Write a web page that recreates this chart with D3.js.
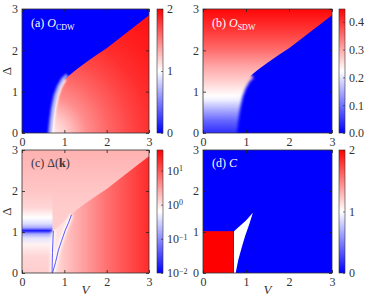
<!DOCTYPE html>
<html>
<head>
<meta charset="utf-8">
<script src="https://cdn.jsdelivr.net/npm/d3@7"></script>
<style>
  body { margin: 0; background: #fff; }
</style>
</head>
<body>
<script>
// axes of the four maps
const vTicks = [0, 1, 2, 3]
const deltaTicks = [0, 1, 2, 3]

// phase boundaries, [V, Δ]
const cdwEdge = [[0.71, 0], [0.74, 0.3], [0.78, 0.6], [0.84, 0.9], [0.92, 1.12], [1.02, 1.3], [1.12, 1.4]]
const upperEdge = [[1.12, 1.4], [1.3, 1.55], [1.5, 1.7], [1.75, 1.88], [2, 2.05], [2.25, 2.25], [2.5, 2.45], [2.75, 2.65], [3, 2.85]]

// (a) CDW order, grows with distance from (0.55, -0.1)
const cdwDist = [0, 0.5, 1, 1.5, 2, 2.5, 3, 3.8]
const cdwValue = [1.0, 1.2, 1.45, 1.6, 1.72, 1.82, 1.88, 1.94]
const cdwTicks = [0, 1, 2]

// (b) SDW order against Δ
const sdwDelta = [0, 0.3, 0.6, 0.8, 0.9, 1.0, 1.3, 1.6, 2, 2.5, 3]
const sdwValue = [0.04, 0.09, 0.16, 0.21, 0.225, 0.235, 0.27, 0.3, 0.35, 0.4, 0.44]
const sdwTicks = [0, 0.1, 0.2, 0.3, 0.4]

// (c) gap, log10 values
const gapDelta = [0, 0.4, 0.7, 0.85, 0.95, 1.0, 1.03, 1.06, 1.11, 1.2, 1.35, 1.6, 2.0, 2.5, 3.0]
const gapLeft = [0.15, 0.1, -0.1, -0.4, -0.8, -1.4, -1.9, -1.4, -0.8, -0.45, -0.2, 0.1, 0.2, 0.28, 0.35]
const gapUpper = [0.15, 0.15, 0.15, 0.15, 0.15, 0.15, 0.15, 0.15, 0.15, 0.15, 0.15, 0.17, 0.2, 0.28, 0.35]
const gapV = [0.72, 1, 1.5, 2, 2.5, 3]
const gapRight = [0.0, 0.2, 0.5, 0.8, 1.05, 1.3]
const gapWedge = 0.02
const gapNodeA = [[0.71, 0], [0.72, 0.5], [0.74, 1.03]]
const gapNodeB = [[0.72, 0], [0.79, 0.25], [0.86, 0.56], [0.94, 0.8], [1.02, 1.04], [1.1, 1.23], [1.17, 1.42]]
const gapTicks = [-2, -1, 0, 1]

// (d) Chern number
const chernTwo = {v: [0, 0.71], delta: [0, 1.02]}
const chernOne = [[0.72, 0], [0.72, 1.02], [0.85, 1.14], [1.0, 1.28], [1.16, 1.47], [1.08, 1.2], [0.98, 0.9], [0.9, 0.62], [0.82, 0.32], [0.76, 0]]
const chernTicks = [0, 1, 2]

const W = 374, H = 304
const FONT = '"Liberation Serif", "DejaVu Serif", serif'
const bwr = ["#0000ff", "#ffffff", "#ff0000"]
const cdwColor = d3.scaleLinear().domain([0, 1, 2]).range(bwr)
const sdwColor = d3.scaleLinear().domain([0, 0.223, 0.446]).range(bwr)
const gapColor = d3.scaleLinear().domain([-2, -0.2, 1.6]).range(bwr)
const chernColor = d3.scaleLinear().domain([0, 1, 2]).range(bwr)

const panels = {
    a: {x: 22, y: 9, w: 127, h: 124, cb: 157},
    b: {x: 203, y: 9, w: 129, h: 124, cb: 339},
    c: {x: 22, y: 150, w: 127, h: 123, cb: 157},
    d: {x: 203, y: 150, w: 129, h: 123, cb: 339}
}

const svg = d3.select("body").append("svg").attr("width", W).attr("height", H)
const defs = svg.append("defs")
let addBlur = (id, sd) => defs.append("filter").attr("id", id)
    .attr("filterUnits", "userSpaceOnUse")
    .attr("x", 0).attr("y", 0).attr("width", W).attr("height", H)
    .append("feGaussianBlur").attr("stdDeviation", sd)
addBlur("soft", 1.6)
addBlur("thin", 0.9)

let addGrad = (id, type, attrs, offsets, colors) => {
    const gr = defs.append(type).attr("id", id).attr("gradientUnits", "userSpaceOnUse")
    Object.entries(attrs).forEach(([k, v]) => gr.attr(k, v))
    offsets.forEach((o, i) => gr.append("stop").attr("offset", o).attr("stop-color", colors[i]))
}

let makePanel = (key) => {
    const p = panels[key]
    const x = d3.scaleLinear().domain([0, 3]).range([p.x, p.x + p.w])
    const y = d3.scaleLinear().domain([0, 3]).range([p.y + p.h, p.y])
    defs.append("clipPath").attr("id", "clip-" + key)
        .append("rect").attr("x", p.x).attr("y", p.y).attr("width", p.w).attr("height", p.h)
    const g = svg.append("g").attr("clip-path", "url(#clip-" + key + ")")
    const line = d3.line().x(d => x(d[0])).y(d => y(d[1]))
    return {p, x, y, g, line}
}

let styleText = sel => sel.attr("font-family", FONT).attr("font-size", 12).attr("fill", "#333")

let drawAxes = ({p, x, y}) => {
    const style = sel => {
        sel.attr("font-family", FONT)
        sel.select(".domain").remove()
        sel.selectAll("line").attr("stroke", "#222").attr("stroke-width", 0.8)
        sel.selectAll("text").call(styleText)
    }
    svg.append("rect").attr("x", p.x).attr("y", p.y).attr("width", p.w).attr("height", p.h)
        .attr("fill", "none").attr("stroke", "#333").attr("stroke-width", 0.8)
    svg.append("g").attr("transform", `translate(0,${y(0)})`)
        .call(d3.axisBottom(x).tickValues(vTicks).tickSize(-3).tickPadding(4).tickFormat(d3.format("d"))).call(style)
    svg.append("g").attr("transform", `translate(0,${y(3)})`)
        .call(d3.axisTop(x).tickValues(vTicks).tickSize(-3).tickFormat("")).call(style)
    svg.append("g").attr("transform", `translate(${x(0)},0)`)
        .call(d3.axisLeft(y).tickValues(deltaTicks).tickSize(-3).tickPadding(4).tickFormat(d3.format("d"))).call(style)
    svg.append("g").attr("transform", `translate(${x(3)},0)`)
        .call(d3.axisRight(y).tickValues(deltaTicks).tickSize(-3).tickFormat("")).call(style)
}

let drawColorbar = (key, color, ticks, fmt) => {
    const p = panels[key]
    const dom = color.domain()
    const cy = d3.scaleLinear().domain([dom[0], dom[2]]).range([p.y + p.h, p.y])
    const samples = d3.range(0, 11).map(i => dom[0] + (dom[2] - dom[0]) * i / 10)
    addGrad("cb-" + key, "linearGradient", {x1: 0, y1: p.y + p.h, x2: 0, y2: p.y},
        samples.map((s, i) => i / 10), samples.map(color))
    svg.append("rect").attr("x", p.cb).attr("y", p.y).attr("width", 6).attr("height", p.h)
        .attr("fill", "url(#cb-" + key + ")").attr("stroke", "#333").attr("stroke-width", 0.6)
    const ax = svg.append("g").attr("transform", `translate(${p.cb + 6},0)`)
        .call(d3.axisRight(cy).tickValues(ticks).tickSize(-2).tickPadding(4).tickFormat(fmt))
    ax.attr("font-family", FONT)
    ax.select(".domain").remove()
    ax.selectAll("line").attr("stroke", "#222").attr("stroke-width", 0.6)
    ax.selectAll("text").call(styleText)
    return ax
}

// ---- (a) CDW
{
    const pa = makePanel("a")
    const {x, y, g, line} = pa
    g.append("rect").attr("x", pa.p.x).attr("y", pa.p.y).attr("width", pa.p.w).attr("height", pa.p.h)
        .attr("fill", cdwColor(0))
    const r = x(cdwDist[cdwDist.length - 1]) - x(0)
    addGrad("cdwFill", "radialGradient", {cx: x(0.55), cy: y(-0.1), r: r},
        cdwDist.map(d => d / cdwDist[cdwDist.length - 1]), cdwValue.map(cdwColor))
    // light blue fringe on the outer side of the continuous edge
    g.append("path").attr("d", line([[0.69, -0.2]].concat(cdwEdge.map(d => [d[0] - 0.05, d[1]]))))
        .attr("fill", "none").attr("stroke", cdwColor(0.6)).attr("stroke-width", 4)
        .attr("filter", "url(#thin)")
    g.append("path").attr("d", line(cdwEdge.concat(upperEdge.slice(1), [[3, 0]])) + "Z")
        .attr("fill", "url(#cdwFill)")
    g.append("path").attr("d", line([[0.7, -0.2]].concat(cdwEdge.slice(0, -1))))
        .attr("fill", "none").attr("stroke", cdwColor(1)).attr("stroke-width", 2.5)
        .attr("filter", "url(#thin)")
    drawAxes(pa)
    drawColorbar("a", cdwColor, cdwTicks, d3.format("d"))
}

// ---- (b) SDW
{
    const pb = makePanel("b")
    const {x, y, g, line} = pb
    g.append("rect").attr("x", pb.p.x).attr("y", pb.p.y).attr("width", pb.p.w).attr("height", pb.p.h)
        .attr("fill", sdwColor(0))
    addGrad("sdwFill", "linearGradient", {x1: 0, y1: y(0), x2: 0, y2: y(3)},
        sdwDelta.map(d => d / 3), sdwValue.map(sdwColor))
    g.append("path").attr("d", line([[0, 0]].concat(cdwEdge, upperEdge.slice(1), [[3, 3], [0, 3]])) + "Z")
        .attr("fill", "url(#sdwFill)")
    g.append("path").attr("d", line([[0.7, -0.2]].concat(cdwEdge)))
        .attr("fill", "none").attr("stroke", "url(#sdwFill)").attr("stroke-width", 7)
        .attr("filter", "url(#soft)")
    drawAxes(pb)
    drawColorbar("b", sdwColor, sdwTicks, d3.format(".1f"))
}

// ---- (c) gap
{
    const pc = makePanel("c")
    const {x, y, g, line} = pc
    addGrad("gapUpperFill", "linearGradient", {x1: 0, y1: y(0), x2: 0, y2: y(3)},
        gapDelta.map(d => d / 3), gapUpper.map(gapColor))
    addGrad("gapLeftFill", "linearGradient", {x1: 0, y1: y(0), x2: 0, y2: y(3)},
        gapDelta.map(d => d / 3), gapLeft.map(gapColor))
    addGrad("gapRightFill", "linearGradient", {x1: x(gapV[0]), y1: 0, x2: x(3), y2: 0},
        gapV.map(v => (v - gapV[0]) / (3 - gapV[0])), gapRight.map(gapColor))
    g.append("rect").attr("x", pc.p.x).attr("y", pc.p.y).attr("width", pc.p.w).attr("height", pc.p.h)
        .attr("fill", "url(#gapUpperFill)")
    g.append("rect").attr("x", x(0)).attr("y", y(3)).attr("width", x(0.72) - x(0)).attr("height", y(0) - y(3))
        .attr("fill", "url(#gapLeftFill)")
    g.append("path").attr("d", line(gapNodeB.concat(upperEdge.filter(d => d[0] > 1.17), [[3, 0]])) + "Z")
        .attr("fill", "url(#gapRightFill)")
    g.append("path").attr("d", line(gapNodeA.concat(gapNodeB.slice().reverse())) + "Z")
        .attr("fill", gapColor(gapWedge))
    ;[gapNodeA, gapNodeB].forEach(node => {
        g.append("path").attr("d", line(node)).attr("fill", "none")
            .attr("stroke", "#fff").attr("stroke-width", 3.5).attr("filter", "url(#soft)")
    })
    ;[gapNodeA, gapNodeB].forEach(node => {
        g.append("path").attr("d", line(node)).attr("fill", "none")
            .attr("stroke", gapColor(-1.5)).attr("stroke-width", 0.9)
    })
    drawAxes(pc)
    const ax = drawColorbar("c", gapColor, gapTicks, d3.format("d"))
    ax.selectAll(".tick text").each(function(d) {
        const t = d3.select(this).text("")
        t.append("tspan").text("10")
        t.append("tspan").attr("dy", "-0.45em").attr("font-size", 8).text(d < 0 ? "\u2212" + (-d) : d)
    })
}

// ---- (d) Chern number
{
    const pd = makePanel("d")
    const {x, y, g, line} = pd
    g.append("rect").attr("x", pd.p.x).attr("y", pd.p.y).attr("width", pd.p.w).attr("height", pd.p.h)
        .attr("fill", chernColor(0))
    g.append("rect").attr("x", x(chernTwo.v[0])).attr("y", y(chernTwo.delta[1]))
        .attr("width", x(chernTwo.v[1]) - x(chernTwo.v[0])).attr("height", y(chernTwo.delta[0]) - y(chernTwo.delta[1]))
        .attr("fill", chernColor(2))
    g.append("path").attr("d", line(chernOne) + "Z").attr("fill", chernColor(1))
    drawAxes(pd)
    drawColorbar("d", chernColor, chernTicks, d3.format("d"))
}

// ---- panel titles and axis labels
let title = (px, py, fill, parts) => {
    const t = svg.append("text").attr("x", px).attr("y", py).attr("font-size", 12).attr("fill", fill)
        .attr("font-family", FONT)
    parts.forEach(([s, st]) => {
        const ts = t.append("tspan").text(s)
        if (st === "i") ts.attr("font-style", "italic")
        if (st === "b") ts.attr("font-weight", "bold")
        if (st === "sub") ts.attr("font-size", 8).attr("dy", 2.5)
    })
}
title(31, 27, "#fff", [["(a) ", ""], ["O", "i"], ["CDW", "sub"]])
title(212, 27, "#fff", [["(b) ", ""], ["O", "i"], ["SDW", "sub"]])
title(31, 167, "#333", [["(c) Δ(", ""], ["k", "b"], [")", ""]])
title(212, 167, "#fff", [["(d) ", ""], ["C", "i"]])

;[71, 211.5].forEach(cy => {
    svg.append("text").attr("transform", `translate(11,${cy}) rotate(-90)`)
        .attr("font-family", FONT)
        .attr("text-anchor", "middle").attr("font-size", 13).attr("fill", "#333").text("Δ")
})
;[85.5, 267.5].forEach(cx => {
    svg.append("text").attr("x", cx).attr("y", 294).attr("text-anchor", "middle")
        .attr("font-family", FONT)
        .attr("font-size", 13).attr("font-style", "italic").attr("fill", "#333").text("V")
})
</script>
</body>
</html>
